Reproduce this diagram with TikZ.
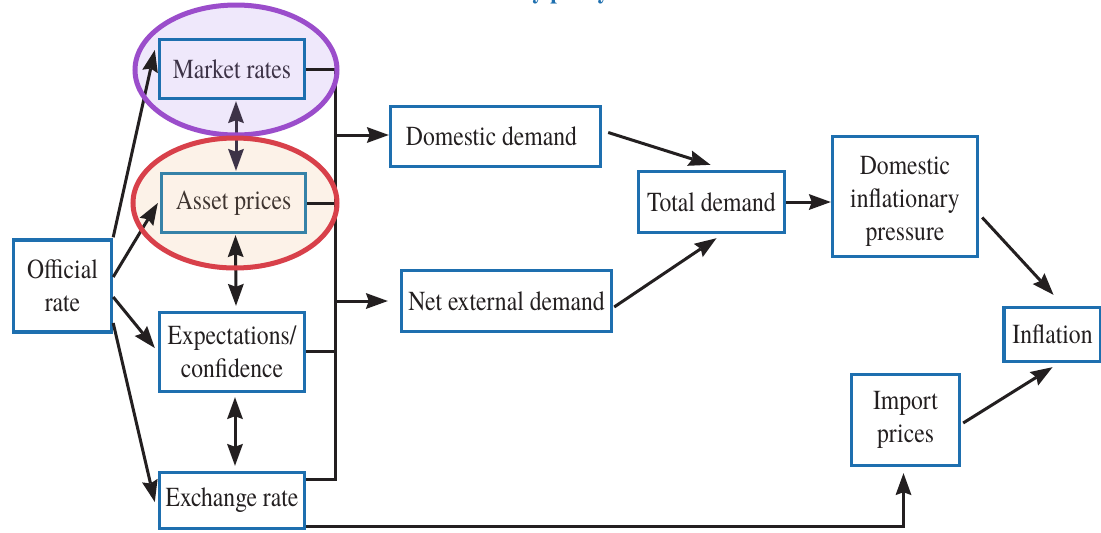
\documentclass[tikz,border=0pt]{standalone}
\usepackage{fontspec}
\setmainfont{TeX Gyre Termes}[FakeStretch=0.86]
\usetikzlibrary{arrows.meta,calc}
\definecolor{boxblue}{HTML}{1E6FAF}
\definecolor{boxteal}{HTML}{3682A8}
\definecolor{ink}{HTML}{231F20}
\definecolor{mktfill}{HTML}{EFE8FB}
\definecolor{mktring}{HTML}{9B4DCB}
\definecolor{astfill}{HTML}{FCF2E8}
\definecolor{astring}{HTML}{D8404A}
\definecolor{mktink}{HTML}{3D3347}
\definecolor{astink}{HTML}{3F3530}
\tikzset{
  label text/.style={text=ink, align=center, inner sep=0pt, font=\fontsize{27.5}{33}\selectfont},
  box/.style={label text, draw=boxblue, line width=3.4pt, fill=white},
  tip/.tip={Stealth[length=22pt,width=16pt,inset=3pt,line width=0pt]},
  arr/.style={draw=ink, line width=3pt, -tip},
  dbl/.style={draw=ink, line width=3pt, tip-tip},
  link/.style={draw=ink, line width=3pt},
  ring/.style={line width=5pt}
}
\begin{document}
\begin{tikzpicture}[x=1pt,y=-1pt]
\useasboundingbox (0,0) rectangle (1101,533);
\fill[white] (0,0) rectangle (1101,533);
\begin{scope}
\clip (0,0) rectangle (1101,533);

% heading, only its descenders fall inside the frame
\node[anchor=base east, text=boxblue, font=\fontsize{27}{30}\selectfont\bfseries]
  (title) at (613,-1.5) {Monetary policy};

% highlight fills behind the two channels
\fill[mktfill] (236,70) ellipse [x radius=101pt, y radius=65pt];
\fill[astfill] (235,203) ellipse [x radius=102pt, y radius=65pt];

% boxes
\node[box, minimum width=98pt, minimum height=92pt] (off) at (62.5,286) {Official\\rate};
\node[box, fill=none, text=mktink, minimum width=145pt, minimum height=59pt] (mkt) at (232,69) {Market rates};
\node[box, fill=none, draw=boxteal, text=astink, minimum width=144pt, minimum height=59pt] (ast) at (233.5,203) {Asset prices};
\node[box, minimum width=145pt, minimum height=79pt] (exp) at (232,352) {Expectations/\\confidence};
\node[box, minimum width=145pt, minimum height=56pt] (exr) at (232,500.5) {Exchange rate};
\node[box, minimum width=210pt, minimum height=60pt] (dd) at (495.5,136.5) {Domestic demand\hspace{8pt}};
\node[box, minimum width=210pt, minimum height=61pt] (ned) at (506.5,301) {Net external demand};
\node[box, minimum width=146pt, minimum height=61pt] (td) at (711.5,202) {Total demand};
\node[box, minimum width=145pt, minimum height=120pt] (dip) at (905,196.5) {};
\node[label text] (diptext) at ($(dip.center)+(0,5)$) {Domestic\\inflationary\\pressure};
\node[box, minimum width=97pt, minimum height=54pt] (inf) at (1052.5,334.5) {Inflation};
\node[box, minimum width=108pt, minimum height=91pt] (imp) at (905.5,420) {Import\\prices};

% collecting line on the right of the four channels
\coordinate (bustop) at (335,69);
\coordinate (busbot) at (335,479);
\draw[link] (mkt.east) -- (bustop) -- (busbot) -- ($(exr.east)+(0,-21.5)$);
\draw[link] (ast.east) -- (ast.east -| bustop);
\draw[link] ($(exp.east)+(0,-1)$) -- ($(exp.east -| bustop)+(0,-1)$);
\draw[arr] ($(bustop |- dd.west)+(2,-1.5)$) -- ($(dd.west)+(0,-1.5)$);
\draw[arr] (bustop |- ned.west) -- ($(ned.west)+(-12,0)$);

% official rate to the channels
\draw[arr] ($(off.north east)+(0,-1)$) -- ($(mkt.west)+(-3,-19)$);
\draw[arr] ($(off.east)+(0,-9)$) -- ($(ast.west)+(-2,0)$);
\draw[arr] ($(off.east)+(0,11)$) -- ($(exp.west)+(-3,-4)$);
\draw[arr] ($(off.east)+(0,37)$) -- ($(exr.west)+(-3,1.5)$);

% links between the channels
\draw[dbl, draw=mktink] ($(mkt.south)+(4,1)$) -- ($(ast.north)+(2.5,-1)$);
\draw[dbl] ($(ast.south)+(2,1)$) -- ($(exp.north)+(4,-5)$);
\draw[dbl] ($(exp.south)+(3,4)$) -- ($(exr.north)+(3,-5)$);

% demand and inflation
\draw[arr] ($(dd.east)+(6,-4)$) -- ($(td.north)+(-1,-5)$);
\draw[arr] ($(ned.east)+(1,6)$) -- ($(td.south)+(5,4)$);
\draw[arr] (td.east) -- (td.east -| dip.west);
\draw[arr] ($(dip.east)+(3,21)$) -- ($(inf.north)+(1,-11)$);
\draw[arr] ($(imp.east)+(2,3)$) -- ($(inf.south)+(0,4)$);
\draw[arr] ($(exr.east)+(0,25.5)$) -| ($(imp.south)+(-2,6)$);

% rings drawn over the lines that cross them
\draw[ring, draw=mktring] (236,70) ellipse [x radius=101pt, y radius=65pt];
\draw[ring, draw=astring] (235,203) ellipse [x radius=102pt, y radius=65pt];
\end{scope}
\end{tikzpicture}
\end{document}
